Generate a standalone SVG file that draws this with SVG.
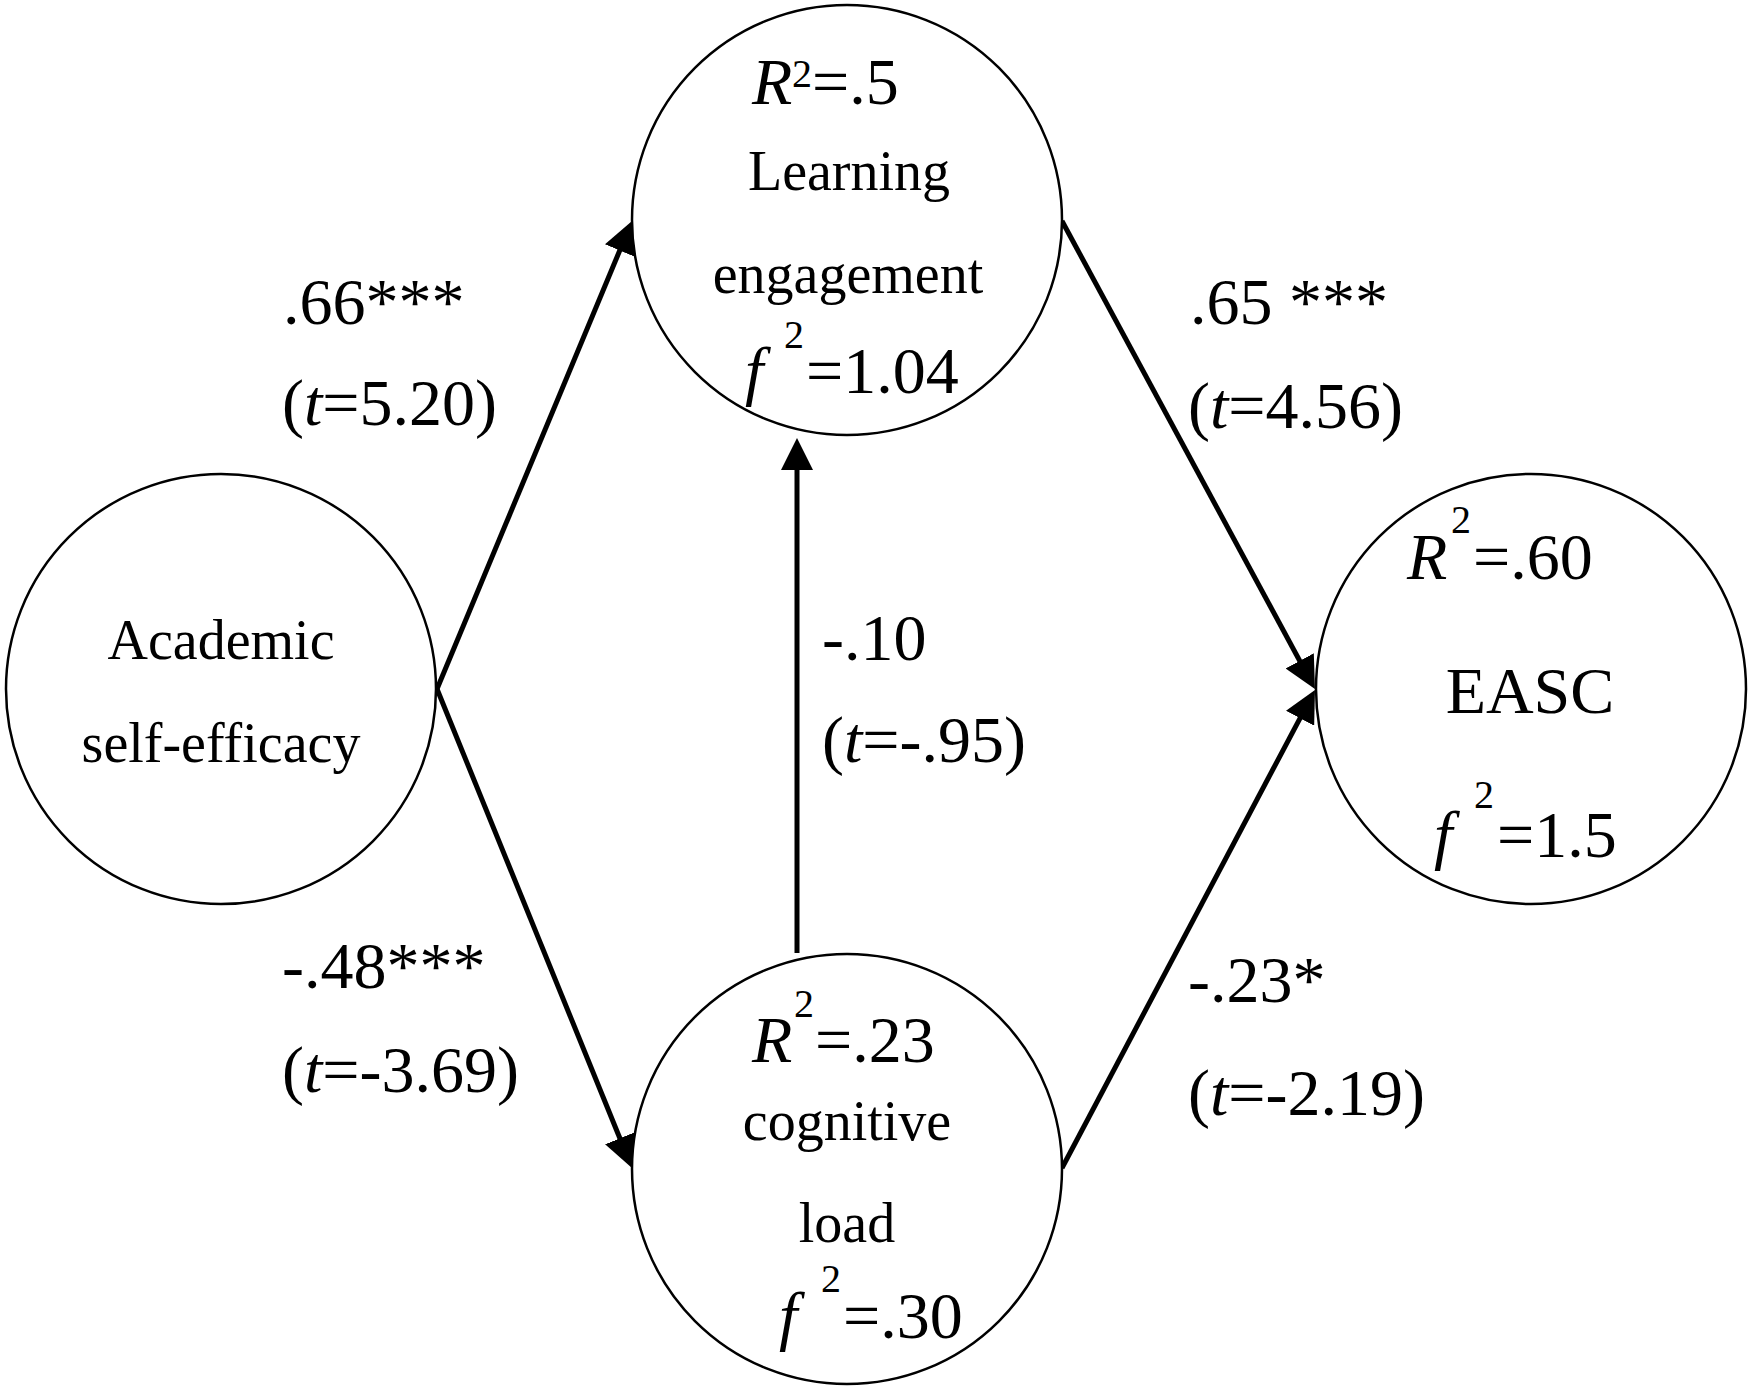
<svg xmlns="http://www.w3.org/2000/svg" width="1754" height="1393" viewBox="0 0 1754 1393">
<defs>
<style>
text{font-family:"Liberation Serif","Times New Roman",serif;fill:#000;}
.node{fill:#fff;stroke:#000;stroke-width:2.5;}
.name{font-size:56px;text-anchor:middle;}
.stat{font-size:66px;}
.sup{font-size:40px;}
.it{font-style:italic;}
.lbl{font-size:66px;}
.edge{stroke:#000;stroke-width:5;fill:none;marker-end:url(#ah);}
</style>
<marker id="ah" markerUnits="userSpaceOnUse" viewBox="0 0 32 32" refX="22" refY="16" markerWidth="32" markerHeight="32" orient="auto">
<path d="M0,0 L32,16 L0,32 z" fill="#000"/>
</marker>
</defs>
<rect width="1754" height="1393" fill="#fff"/>
<g id="connectors">
<line class="edge" x1="437" y1="689" x2="628.2" y2="230.2"/>
<line class="edge" x1="437" y1="689" x2="628.2" y2="1158.7"/>
<line class="edge" x1="1062" y1="221" x2="1310.2" y2="680.2"/>
<line class="edge" x1="1062" y1="1168" x2="1310.3" y2="698.8"/>
<line class="edge" x1="797" y1="953" x2="797" y2="448"/>
</g>
<g id="node-ase">
<circle class="node" cx="221" cy="689" r="215"/>
<text class="name" x="221" y="659">Academic</text>
<text class="name" x="221" y="762">self-efficacy</text>
</g>
<g id="node-le">
<circle class="node" cx="847" cy="220" r="215"/>
<text class="stat" y="104"><tspan class="it" x="752">R</tspan><tspan class="sup" x="792" y="87">2</tspan><tspan x="812" y="104">=.5</tspan></text>
<text class="name" x="849" y="190">Learning</text>
<text class="name" x="848" y="293">engagement</text>
<text class="stat" y="393"><tspan class="it" x="745">f</tspan><tspan class="sup" x="784" y="348">2</tspan><tspan x="806" y="393">=1.04</tspan></text>
</g>
<g id="node-cl">
<circle class="node" cx="847" cy="1169" r="215"/>
<text class="stat" y="1062"><tspan class="it" x="752">R</tspan><tspan class="sup" x="794" y="1017">2</tspan><tspan x="815" y="1062">=.23</tspan></text>
<text class="name" x="847" y="1140">cognitive</text>
<text class="name" x="847" y="1242">load</text>
<text class="stat" y="1338"><tspan class="it" x="779">f</tspan><tspan class="sup" x="821" y="1292">2</tspan><tspan x="843" y="1338">=.30</tspan></text>
</g>
<g id="node-easc">
<circle class="node" cx="1531" cy="689" r="215"/>
<text class="stat" y="579"><tspan class="it" x="1407">R</tspan><tspan class="sup" x="1451" y="533">2</tspan><tspan x="1473" y="579">=.60</tspan></text>
<text class="stat" x="1530" y="713" text-anchor="middle">EASC</text>
<text class="stat" y="857"><tspan class="it" x="1434">f</tspan><tspan class="sup" x="1474" y="808">2</tspan><tspan x="1497" y="857">=1.5</tspan></text>
</g>
<g id="edge-labels">
<text class="lbl" x="283" y="324">.66***</text>
<text class="lbl" x="282" y="425">(<tspan class="it">t</tspan>=5.20)</text>
<text class="lbl" x="1190" y="324">.65 ***</text>
<text class="lbl" x="1188" y="428">(<tspan class="it">t</tspan>=4.56)</text>
<text class="lbl" x="282" y="988">-.48***</text>
<text class="lbl" x="282" y="1092">(<tspan class="it">t</tspan>=-3.69)</text>
<text class="lbl" x="1188" y="1002">-.23*</text>
<text class="lbl" x="1188" y="1115">(<tspan class="it">t</tspan>=-2.19)</text>
<text class="lbl" x="822" y="660">-.10</text>
<text class="lbl" x="822" y="762">(<tspan class="it">t</tspan>=-.95)</text>
</g>
</svg>
